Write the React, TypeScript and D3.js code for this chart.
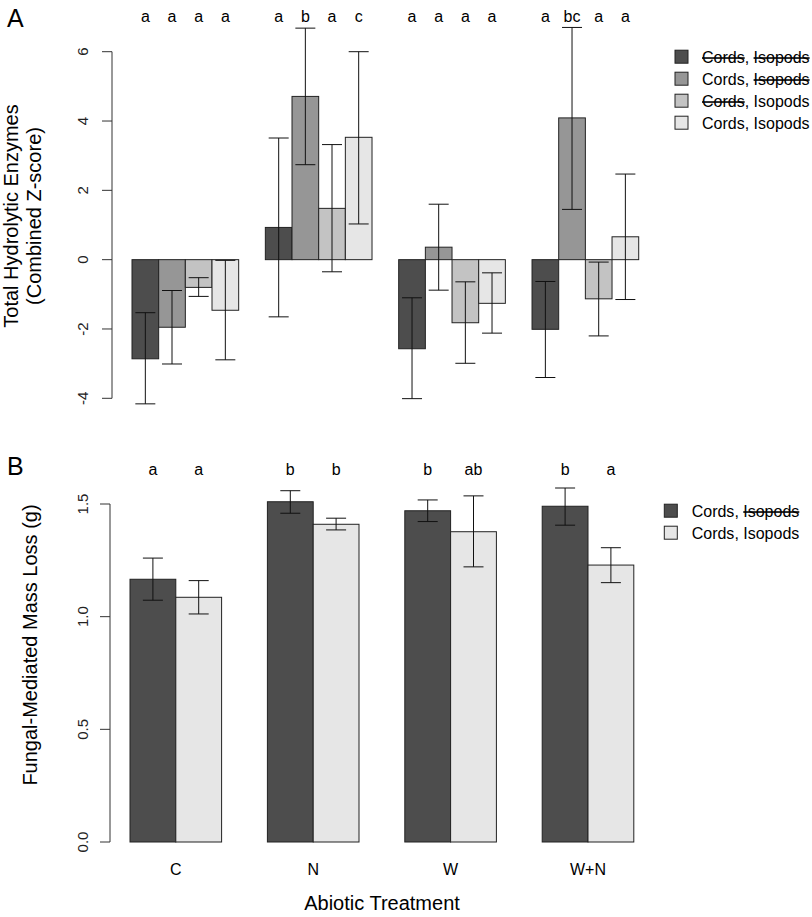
import React from "react";
import * as d3 from "d3";

// ---------- Data ----------
const treatments = ["C", "N", "W", "W+N"];

// Panel A: Total hydrolytic enzymes (combined Z-score)
const seriesA = ["s1", "s2", "s3", "s4"];
const meanA = [
  [-2.86, -1.95, -0.8, -1.46],
  [0.93, 4.71, 1.48, 3.53],
  [-2.57, 0.36, -1.82, -1.26],
  [-2.01, 4.09, -1.13, 0.66],
];
const upperA = [
  [-1.53, -0.89, -0.52, -0.02],
  [3.51, 6.68, 3.32, 6.0],
  [-1.1, 1.6, -0.64, -0.38],
  [-0.63, 6.7, -0.07, 2.47],
];
const lowerA = [
  [-4.16, -3.01, -1.06, -2.89],
  [-1.65, 2.74, -0.35, 1.03],
  [-4.01, -0.88, -2.99, -2.12],
  [-3.4, 1.45, -2.2, -1.15],
];
const lettersA = [
  ["a", "a", "a", "a"],
  ["a", "b", "a", "c"],
  ["a", "a", "a", "a"],
  ["a", "bc", "a", "a"],
];
const colorsA = ["#4d4d4d", "#969696", "#c3c3c3", "#e6e6e6"];
const ticksA = [-4, -2, 0, 2, 4, 6];
// legend: [cords struck, isopods struck]
const legendA = [
  [true, true],
  [false, true],
  [true, false],
  [false, false],
];

// Panel B: Fungal-mediated mass loss (g)
const meanB = [
  [1.166, 1.086],
  [1.51, 1.41],
  [1.47, 1.377],
  [1.49, 1.229],
];
const upperB = [
  [1.26, 1.16],
  [1.559, 1.437],
  [1.518, 1.536],
  [1.571, 1.306],
];
const lowerB = [
  [1.073, 1.012],
  [1.459, 1.385],
  [1.422, 1.221],
  [1.406, 1.151],
];
const lettersB = [
  ["a", "a"],
  ["b", "b"],
  ["b", "ab"],
  ["b", "a"],
];
const colorsB = ["#4d4d4d", "#e6e6e6"];
const ticksB = [0, 0.5, 1.0, 1.5];
const legendB = [
  [false, true],
  [false, false],
];

const FONT = "'Liberation Sans', Arial, Helvetica, sans-serif";
const AXIS = "#333";

function LegendLabel({ strike }: { strike: boolean[] }) {
  return (
    <>
      <tspan style={{ textDecoration: strike[0] ? "line-through" : "none" }}>Cords</tspan>
      <tspan>, </tspan>
      <tspan style={{ textDecoration: strike[1] ? "line-through" : "none" }}>Isopods</tspan>
    </>
  );
}

export default function App() {
  // Panel A scales
  const xA = d3.scaleLinear().domain([0, 20]).range([105.33, 638.7]);
  const yA = d3.scaleLinear().domain([-4, 6]).range([398.3, 51.7]);
  const unitA = xA(1) - xA(0);
  // Panel B scales
  const xB = d3.scaleLinear().domain([0, 12]).range([84.2, 633.8]);
  const yB = d3.scaleLinear().domain([0, 1.5]).range([842, 504]);
  const unitB = xB(1) - xB(0);
  const cap = 10;

  return (
    <svg
      width={812}
      height={917}
      style={{ position: "absolute", left: 0, top: 0, background: "#fff" }}
      fontFamily={FONT}
    >
      {/* ---------------- Panel A ---------------- */}
      <text x={7} y={27} fontSize={25}>A</text>
      {/* y axis */}
      <line x1={112} x2={112} y1={yA(-4)} y2={yA(6)} stroke={AXIS} />
      {ticksA.map((t) => (
        <g key={t}>
          <line x1={102} x2={112} y1={yA(t)} y2={yA(t)} stroke={AXIS} />
          <text
            transform={`translate(88,${yA(t)}) rotate(-90)`}
            textAnchor="middle"
            fontSize={15}
            fill="#222"
          >
            {t}
          </text>
        </g>
      ))}
      <text transform={`translate(18,216) rotate(-90)`} textAnchor="middle" fontSize={20}>
        Total Hydrolytic Enzymes
      </text>
      <text transform={`translate(41,216) rotate(-90)`} textAnchor="middle" fontSize={20}>
        (Combined Z-score)
      </text>
      {treatments.map((tr, g) =>
        seriesA.map((s, j) => {
          const u = 1 + g * 5 + j;
          const x0 = xA(u);
          const cx = x0 + unitA / 2;
          const v = meanA[g][j];
          return (
            <g key={tr + s}>
              <rect
                x={x0}
                y={Math.min(yA(v), yA(0))}
                width={unitA}
                height={Math.abs(yA(v) - yA(0))}
                fill={colorsA[j]}
                stroke="#222"
                strokeWidth={1}
              />
              <line x1={cx} x2={cx} y1={yA(upperA[g][j])} y2={yA(lowerA[g][j])} stroke="#111" />
              <line x1={cx - cap} x2={cx + cap} y1={yA(upperA[g][j])} y2={yA(upperA[g][j])} stroke="#111" />
              <line x1={cx - cap} x2={cx + cap} y1={yA(lowerA[g][j])} y2={yA(lowerA[g][j])} stroke="#111" />
              <text x={cx} y={22} textAnchor="middle" fontSize={16}>
                {lettersA[g][j]}
              </text>
            </g>
          );
        })
      )}
      {/* legend A */}
      {legendA.map((st, i) => {
        const cy = 56.7 + i * 22;
        return (
          <g key={i}>
            <rect x={675} y={cy - 6.5} width={13} height={13} fill={colorsA[i]} stroke="#222" />
            <text x={702} y={cy + 6} fontSize={16}>
              <LegendLabel strike={st} />
            </text>
          </g>
        );
      })}

      {/* ---------------- Panel B ---------------- */}
      <text x={7} y={475} fontSize={25}>B</text>
      <line x1={110} x2={110} y1={yB(0)} y2={yB(1.5)} stroke={AXIS} />
      {ticksB.map((t) => (
        <g key={t}>
          <line x1={100} x2={110} y1={yB(t)} y2={yB(t)} stroke={AXIS} />
          <text
            transform={`translate(88,${yB(t)}) rotate(-90)`}
            textAnchor="middle"
            fontSize={15}
            fill="#222"
          >
            {t.toFixed(1)}
          </text>
        </g>
      ))}
      <text transform={`translate(37,645) rotate(-90)`} textAnchor="middle" fontSize={20}>
        Fungal-Mediated Mass Loss (g)
      </text>
      {treatments.map((tr, g) => {
        const gx = xB(1 + g * 3 + 1);
        return (
          <g key={tr}>
            {colorsB.map((c, j) => {
              const u = 1 + g * 3 + j;
              const x0 = xB(u);
              const cx = x0 + unitB / 2;
              const v = meanB[g][j];
              return (
                <g key={j}>
                  <rect
                    x={x0}
                    y={yB(v)}
                    width={unitB}
                    height={yB(0) - yB(v)}
                    fill={c}
                    stroke="#222"
                  />
                  <line x1={cx} x2={cx} y1={yB(upperB[g][j])} y2={yB(lowerB[g][j])} stroke="#111" />
                  <line x1={cx - cap} x2={cx + cap} y1={yB(upperB[g][j])} y2={yB(upperB[g][j])} stroke="#111" />
                  <line x1={cx - cap} x2={cx + cap} y1={yB(lowerB[g][j])} y2={yB(lowerB[g][j])} stroke="#111" />
                  <text x={cx} y={475} textAnchor="middle" fontSize={16}>
                    {lettersB[g][j]}
                  </text>
                </g>
              );
            })}
            <text x={gx} y={875} textAnchor="middle" fontSize={16}>
              {tr}
            </text>
          </g>
        );
      })}
      <text x={382} y={910} textAnchor="middle" fontSize={20}>
        Abiotic Treatment
      </text>
      {legendB.map((st, i) => {
        const cy = 510.7 + i * 22;
        return (
          <g key={i}>
            <rect x={664.3} y={cy - 6.5} width={13} height={13} fill={colorsB[i]} stroke="#222" />
            <text x={691.7} y={cy + 6} fontSize={16}>
              <LegendLabel strike={st} />
            </text>
          </g>
        );
      })}
    </svg>
  );
}
